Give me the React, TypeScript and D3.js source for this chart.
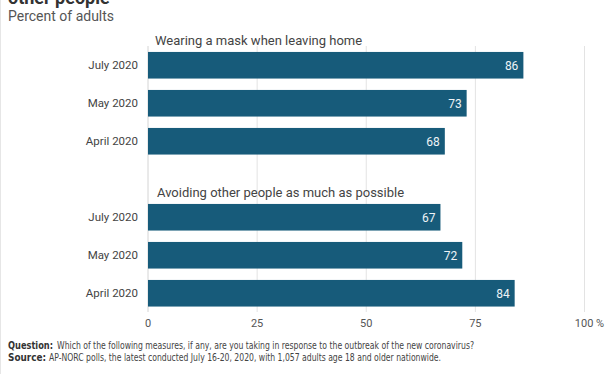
import React from "react"
import * as d3 from "d3"

// data
const groups = ["Wearing a mask when leaving home", "Avoiding other people as much as possible"]
const periods = ["July 2020", "May 2020", "April 2020"]
const maskValues = [86, 73, 68]
const avoidValues = [67, 72, 84]
const xTicks = [0, 25, 50, 75, 100]

const W = 612
const H = 374
const barColor = "#175b7a"

const rows = [
	...periods.map((p, i) => ({ key: "g0-" + p, label: p, value: maskValues[i] })),
	{ key: "gap", label: "", value: null },
	...periods.map((p, i) => ({ key: "g1-" + p, label: p, value: avoidValues[i] })),
]

const App = () => {
	const x = d3.scaleLinear().domain([0, 100]).range([148, 584.5])
	const y = d3
		.scaleBand()
		.domain(rows.map((r) => r.key))
		.range([46.25, 312.25])
		.paddingInner(0.3)
		.paddingOuter(0.15)

	const font = "Roboto, 'Noto Sans', sans-serif"
	const footFont = "'Liberation Sans Narrow', 'DejaVu Sans Condensed', sans-serif"
	const groupTitleY = [y("g0-July 2020") - 7, y("g1-July 2020") - 7]

	return (
		<svg
			width={W}
			height={H}
			style={{ position: "absolute", left: 0, top: 0, background: "#fff" }}
			fontFamily={font}
		>
			<line x1={0.5} x2={0.5} y1={0} y2={H} stroke="#e6e6e6" />

			{/* title, cut off at the top */}
			<text x={8} y={4} fontSize={18} fontWeight="bold" fill="#333">
				other people
			</text>
			<text x={8} y={21} fontSize={14} fill="#555">
				Percent of adults
			</text>

			{/* grid */}
			{xTicks.map((t) => (
				<line
					key={t}
					x1={x(t)}
					x2={x(t)}
					y1={46}
					y2={312}
					stroke={t === 0 ? "#d4d4d4" : "#e3e3e3"}
					strokeWidth={1}
				/>
			))}
			{xTicks.map((t, i) => (
				<text
					key={"l" + t}
					x={x(t) + (i === xTicks.length - 1 ? 5 : 0)}
					y={327}
					fontSize={11}
					fill="#555"
					textAnchor="middle"
				>
					{t === 100 ? "100 %" : t}
				</text>
			))}

			{/* group titles */}
			{groups.map((g, i) => (
				<text key={g} x={i === 0 ? 155 : 157} y={groupTitleY[i]} fontSize={13} fill="#444">
					{g}
				</text>
			))}

			{/* bars */}
			{rows
				.filter((r) => r.value !== null)
				.map((r) => (
					<g key={r.key}>
						<rect
							x={x(0)}
							y={y(r.key)}
							width={x(r.value) - x(0)}
							height={y.bandwidth()}
							fill={barColor}
						/>
						<text
							x={x(r.value) - 5}
							y={y(r.key) + y.bandwidth() / 2}
							dy="0.36em"
							fontSize={12}
							fill="#eef3f6"
							textAnchor="end"
						>
							{r.value}
						</text>
						<text
							x={138}
							y={y(r.key) + y.bandwidth() / 2}
							dy="0.36em"
							fontSize={11.5}
							fill="#444"
							textAnchor="end"
						>
							{r.label}
						</text>
					</g>
				))}

			{/* footer */}
			<g fontFamily={footFont} fontSize={10}>
				<text x={8} y={348.5} fontWeight="bold" fill="#333" textLength={45} lengthAdjust="spacingAndGlyphs">
					Question:
				</text>
				<text x={57} y={348.5} fill="#444" textLength={417} lengthAdjust="spacingAndGlyphs">
					Which of the following measures, if any, are you taking in response to the outbreak of the new coronavirus?
				</text>
				<text x={8} y={361} fontWeight="bold" fill="#333" textLength={38} lengthAdjust="spacingAndGlyphs">
					Source:
				</text>
				<text x={49} y={361} fill="#444" textLength={392} lengthAdjust="spacingAndGlyphs">
					AP-NORC polls, the latest conducted July 16-20, 2020, with 1,057 adults age 18 and older nationwide.
				</text>
			</g>
		</svg>
	)
}

export default App
